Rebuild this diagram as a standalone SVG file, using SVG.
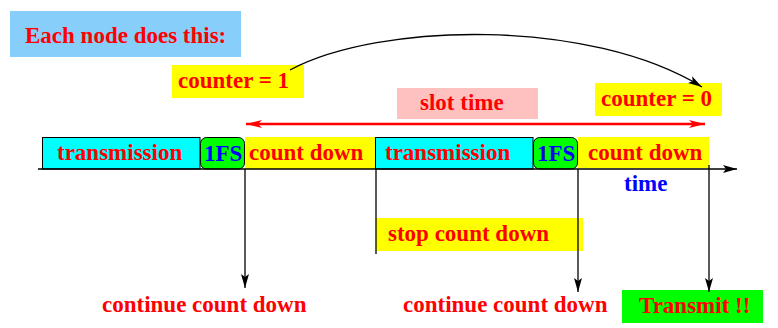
<svg xmlns="http://www.w3.org/2000/svg" width="778" height="328" viewBox="0 0 778 328">
<style>
text{font-family:"Liberation Serif","Times New Roman",serif;font-weight:bold;font-size:23px}
.r{fill:#ff0000}
.b{fill:#0000ff}
.box{stroke:#000;stroke-width:1}
.ln{stroke:#000;stroke-width:1.3;fill:none}
</style>
<defs>
<marker id="ak" markerUnits="userSpaceOnUse" markerWidth="16" markerHeight="10" refX="14" refY="5" orient="auto">
<path d="M0,1 L14,5 L0,9 L3,5 Z" fill="#000"/>
</marker>
<marker id="ar" markerUnits="userSpaceOnUse" markerWidth="18" markerHeight="10" refX="16" refY="5" orient="auto-start-reverse">
<path d="M0,1 L16,5 L0,9 L4,5 Z" fill="#ff0000"/>
</marker>
</defs>
<g id="title"><rect x="10" y="11" width="231" height="46" fill="#87cefa"/><text class="r" x="25" y="43">Each node does this:</text></g>
<g id="counter1"><rect x="172" y="65" width="132" height="33" fill="#ffff00"/><text class="r" x="178" y="88">counter = 1</text></g>
<g id="slottime"><rect x="397" y="88" width="141" height="31" fill="#ffc0c0"/><text class="r" x="420" y="110">slot time</text></g>
<g id="counter0"><rect x="595" y="83" width="127" height="33" fill="#ffff00"/><text class="r" x="601" y="106">counter = 0</text></g>
<g id="trans1"><rect class="box" x="42.5" y="137.5" width="157.5" height="31.5" fill="#00ffff"/><text class="r" x="57" y="160">transmission</text></g>
<g id="ifs1"><rect class="box" x="200.5" y="137.5" width="44" height="31.5" rx="6" fill="#00ff00"/><text class="b" x="204" y="161">1FS</text></g>
<g id="count1"><rect x="245" y="137" width="130.5" height="32" fill="#ffff00"/><text class="r" x="249" y="160">count down</text></g>
<g id="trans2"><rect class="box" x="375.5" y="137.5" width="157.5" height="31.5" fill="#00ffff"/><text class="r" x="385" y="160">transmission</text></g>
<g id="ifs2"><rect class="box" x="533.5" y="137.5" width="44" height="31.5" rx="6" fill="#00ff00"/><text class="b" x="537" y="161">1FS</text></g>
<g id="count2"><rect x="578" y="137" width="131" height="31" fill="#ffff00"/><text class="r" x="588" y="160">count down</text></g>
<g id="timelabel"><text class="b" x="624" y="191">time</text></g>
<g id="stop"><rect x="376" y="218" width="207" height="33" fill="#ffff00"/><text class="r" x="388" y="241">stop count down</text></g>
<g id="cont1"><text class="r" x="102" y="312">continue count down</text></g>
<g id="cont2"><text class="r" x="403" y="312">continue count down</text></g>
<g id="transmit"><rect x="622" y="290" width="141" height="33" fill="#00ff00"/><text class="r" x="639" y="313">Transmit !!</text></g>
<g id="connectors">
<path class="ln" d="M290,70 C380,22 590,18 702,87" marker-end="url(#ak)"/>
<line x1="246" y1="124" x2="705" y2="124" stroke="#ff0000" stroke-width="2.5" marker-start="url(#ar)" marker-end="url(#ar)"/>
<line class="ln" x1="38" y1="169" x2="737" y2="169" marker-end="url(#ak)"/>
<line class="ln" x1="245" y1="169" x2="245" y2="288" marker-end="url(#ak)"/>
<line class="ln" x1="376" y1="169" x2="376" y2="254"/>
<line class="ln" x1="578" y1="169" x2="578" y2="292" marker-end="url(#ak)"/>
<line class="ln" x1="709" y1="165" x2="709" y2="292" marker-end="url(#ak)"/>
</g>
</svg>
